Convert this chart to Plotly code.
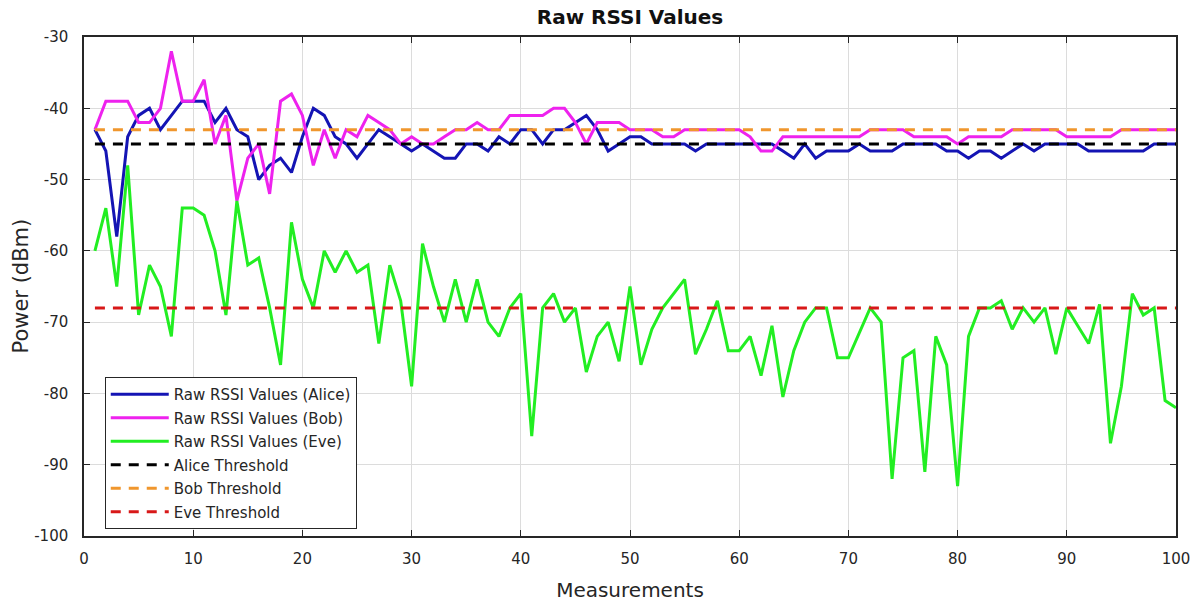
import plotly.graph_objects as go

measurements = list(range(1, 101))

alice = [-43, -46, -58, -44, -41, -40, -43, -41, -39, -39,
         -39, -42, -40, -43, -44, -50, -48, -47, -49, -44,
         -40, -41, -44, -45, -47, -45, -43, -44, -45, -46,
         -45, -46, -47, -47, -45, -45, -46, -44, -45, -43,
         -43, -45, -43, -43, -42, -41, -43, -46, -45, -44,
         -44, -45, -45, -45, -45, -46, -45, -45, -45, -45,
         -45, -45, -45, -46, -47, -45, -47, -46, -46, -46,
         -45, -46, -46, -46, -45, -45, -45, -45, -46, -46,
         -47, -46, -46, -47, -46, -45, -46, -45, -45, -45,
         -45, -46, -46, -46, -46, -46, -46, -45, -45, -45]

bob = [-43, -39, -39, -39, -42, -42, -40, -32, -39, -39,
       -36, -45, -41, -53, -47, -45, -52, -39, -38, -41,
       -48, -43, -47, -43, -44, -41, -42, -43, -45, -44,
       -45, -45, -44, -43, -43, -42, -43, -43, -41, -41,
       -41, -41, -40, -40, -42, -45, -42, -42, -42, -43,
       -43, -43, -44, -44, -43, -43, -43, -43, -43, -43,
       -44, -46, -46, -44, -44, -44, -44, -44, -44, -44,
       -44, -43, -43, -43, -43, -44, -44, -44, -44, -45,
       -44, -44, -44, -44, -43, -43, -43, -43, -43, -44,
       -44, -44, -44, -44, -43, -43, -43, -43, -43, -43]

eve = [-60, -54, -65, -48, -69, -62, -65, -72, -54, -54,
       -55, -60, -69, -53, -62, -61, -68, -76, -56, -64,
       -68, -60, -63, -60, -63, -62, -73, -62, -67, -79,
       -59, -65, -70, -64, -70, -64, -70, -72, -68, -66,
       -86, -68, -66, -70, -68, -77, -72, -70, -75.5, -65,
       -76, -71, -68, -66, -64, -74.5, -71, -67, -74, -74,
       -72, -77.5, -70.5, -80.5, -74, -70, -68, -68, -75, -75,
       -71.5, -68, -70, -92, -75, -74, -91, -72, -76, -93,
       -72, -68, -68, -67, -71, -68, -70, -68, -74.5, -68,
       -70.5, -73, -67.5, -87, -79, -66, -69, -68, -81, -82]

alice_threshold = -45
bob_threshold = -43
eve_threshold = -68

x_ticks = list(range(0, 101, 10))
y_ticks = list(range(-100, -29, 10))
x_tick_labels = [str(v) for v in x_ticks]
y_tick_labels = [str(v) for v in y_ticks]

FONT = "DejaVu Sans"
TXT = "#262626"

fig = go.Figure()

series = [
    ("Raw RSSI Values (Alice)", alice, "#1414b4"),
    ("Raw RSSI Values (Bob)", bob, "#ee22ee"),
    ("Raw RSSI Values (Eve)", eve, "#22ee22"),
]
for i, (name, vals, col) in enumerate(series):
    fig.add_trace(go.Scatter(
        x=measurements, y=vals, mode="lines", name=name,
        line=dict(color=col, width=3), legendgroup=f"g{i}"))

thresholds = [
    ("Alice Threshold", alice_threshold, "#000000"),
    ("Bob Threshold", bob_threshold, "#f0962d"),
    ("Eve Threshold", eve_threshold, "#d81818"),
]
for i, (name, val, col) in enumerate(thresholds):
    fig.add_trace(go.Scatter(
        x=[measurements[0], measurements[-1]], y=[val, val], mode="lines",
        name=name, line=dict(color=col, width=3, dash="10px,8px"),
        legendgroup=f"t{i}"))

axis_common = dict(
    showgrid=True, gridcolor="#dcdcdc", gridwidth=1,
    showline=True, linecolor=TXT, linewidth=1.5, mirror="ticks",
    ticks="inside", ticklen=6, tickcolor=TXT,
    tickfont=dict(family=FONT, size=15, color=TXT),
    zeroline=False, automargin=False,
)

fig.update_xaxes(range=[0, 100], tickvals=x_ticks, ticktext=x_tick_labels,
                 title=dict(text="Measurements", font=dict(family=FONT, size=20, color=TXT), standoff=16),
                 ticklabelstandoff=8, **axis_common)
fig.update_yaxes(range=[-100, -30], tickvals=y_ticks, ticktext=y_tick_labels,
                 ticklabelstandoff=11, **axis_common)

fig.add_annotation(text="Power (dBm)", xref="paper", yref="paper",
                   x=(20 - 84) / 1092, y=0.5, xanchor="center", yanchor="middle",
                   textangle=-90, showarrow=False,
                   font=dict(family=FONT, size=21, color=TXT))

fig.update_layout(
    width=1197, height=603,
    margin=dict(l=84, r=21, t=37, b=67),
    paper_bgcolor="white", plot_bgcolor="white",
    title=dict(text="<b>Raw RSSI Values</b>", x=630 / 1197, xanchor="center",
               y=1 - 17 / 603, yanchor="middle", yref="container",
               font=dict(family=FONT, size=20, color="#111111")),
    legend=dict(x=0.019, y=0.014, xanchor="left", yanchor="bottom",
                bgcolor="white", bordercolor=TXT, borderwidth=1,
                font=dict(family=FONT, size=15, color=TXT),
                tracegroupgap=1, itemwidth=58),
    showlegend=True,
)

fig.write_html("out.html")
